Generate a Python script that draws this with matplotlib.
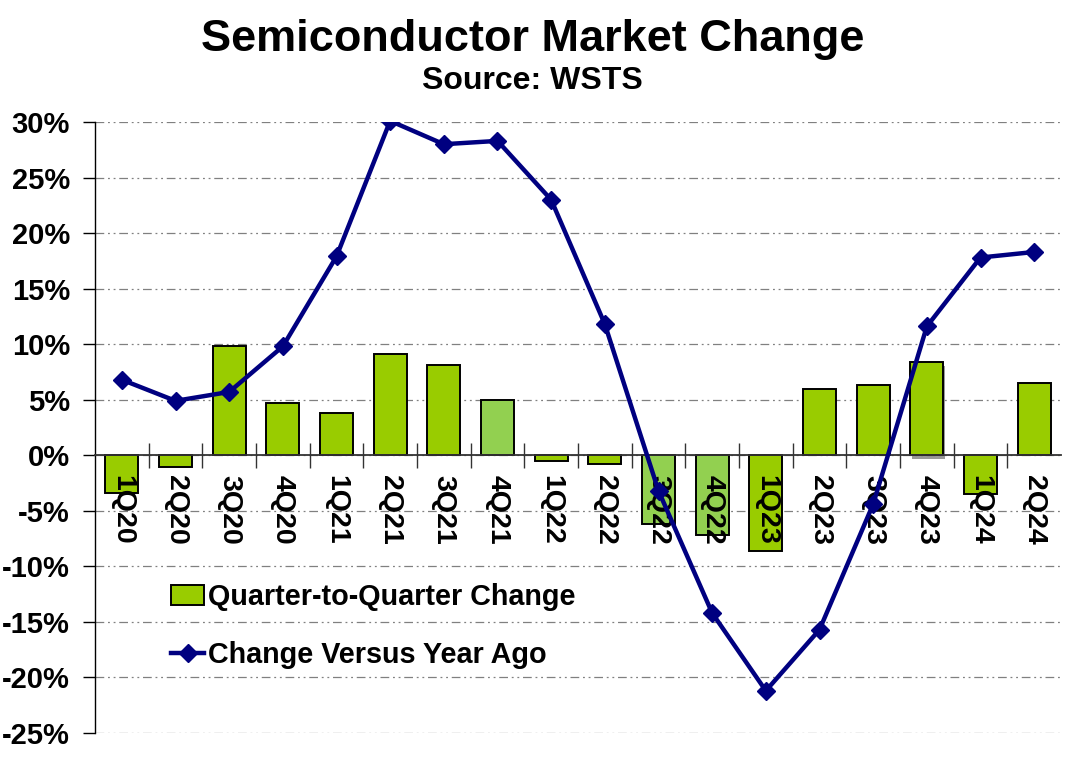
import matplotlib
matplotlib.use("Agg")
import matplotlib.pyplot as plt
import matplotlib.patheffects as pe
from matplotlib.lines import Line2D
from matplotlib.patches import Patch
import numpy as np

quarters = ["1Q20", "2Q20", "3Q20", "4Q20", "1Q21", "2Q21", "3Q21", "4Q21", "1Q22",
            "2Q22", "3Q22", "4Q22", "1Q23", "2Q23", "3Q23", "4Q23", "1Q24", "2Q24"]
qoq = [-3.4, -1.1, 9.8, 4.7, 3.8, 9.1, 8.1, 4.95, -0.5, -0.8, -6.2, -7.2, -8.6,
       6.0, 6.3, 8.4, -3.5, 6.5]
yoy = [6.8, 4.9, 5.7, 9.8, 17.9, 30.1, 28.0, 28.3, 23.0, 11.8, -3.2, -14.2, -21.2,
       -15.7, -4.4, 11.6, 17.8, 18.3]
light_bars = ["4Q21", "3Q22", "4Q22"]
yticks = [30, 25, 20, 15, 10, 5, 0, -5, -10, -15, -20, -25]

plt.rcParams['font.family'] = ['Liberation Sans', 'DejaVu Sans']
plt.rcParams['font.weight'] = 'bold'

fig = plt.figure(figsize=(10.8, 7.62), dpi=100)
ax = fig.add_axes([95/1080, 1-733/762, (1061-95)/1080, (733-122)/762])

x = np.arange(len(quarters))
colors = ["#92D050" if q in light_bars else "#99CC00" for q in quarters]

for y in yticks:
    ax.axhline(y, color="#808080", lw=0.9, dashes=(7, 3, 1.5, 3, 1.5, 3), zorder=0.5)

bars = ax.bar(x, qoq, width=0.62, color=colors, edgecolor="black", linewidth=1.4, zorder=2)
bars[quarters.index("4Q23")].set_path_effects(
    [pe.SimplePatchShadow(offset=(1, -3), shadow_rgbFace="#555555", alpha=0.6), pe.Normal()])

ax.plot(x, yoy, color="#000080", lw=3.2, marker="D", markersize=9, zorder=3)

ax.set_xlim(-0.5, len(quarters) - 0.5)
ax.set_ylim(-25, 30)

ax.spines['top'].set_visible(False)
ax.spines['right'].set_visible(False)
ax.spines['bottom'].set_position(('data', 0))
ax.spines['bottom'].set_color("#333333")
ax.spines['bottom'].set_linewidth(1.3)
ax.spines['left'].set_linewidth(1.0)
ax.spines['left'].set_bounds(-25, 30)

ax.set_yticks(yticks)
ax.set_yticklabels([f"{v}%" for v in yticks], fontsize=21, fontweight='bold')
ax.tick_params(axis='y', direction='out', length=9, width=1, pad=9)

ax.set_xticks(x)
ax.set_xticklabels(quarters, rotation=270, fontsize=20.5, fontweight='bold')
ax.tick_params(axis='x', which='major', length=0, pad=14)
ax.set_xticks(np.arange(0.5, len(quarters) - 1, 1.0), minor=True)
ax.tick_params(axis='x', which='minor', direction='inout', length=18, width=1, color="#333333")
for lab in ax.get_xticklabels():
    lab.set_va('top')
    lab.set_ha('center')
ax.xaxis.set_zorder(2.5)

handles = [Patch(facecolor="#99CC00", edgecolor="black", linewidth=1.4),
           Line2D([0], [0], color="#000080", lw=3.2, marker="D", markersize=9)]
fig.legend(handles, ["Quarter-to-Quarter Change", "Change Versus Year Ago"],
           loc='upper left', bbox_to_anchor=(171/1080, 1-583/762), frameon=False,
           prop={'weight': 'bold', 'size': 20.7}, handlelength=1.15,
           handletextpad=0.15, labelspacing=1.05, borderpad=0, borderaxespad=0)

fig.text(0.493, 1-40/762, "Semiconductor Market Change", ha='center', va='center',
         fontsize=32.5, fontweight='bold')
fig.text(0.493, 1-81/762, "Source: WSTS", ha='center', va='center',
         fontsize=23, fontweight='bold')

fig.savefig("out.png", dpi=100)
